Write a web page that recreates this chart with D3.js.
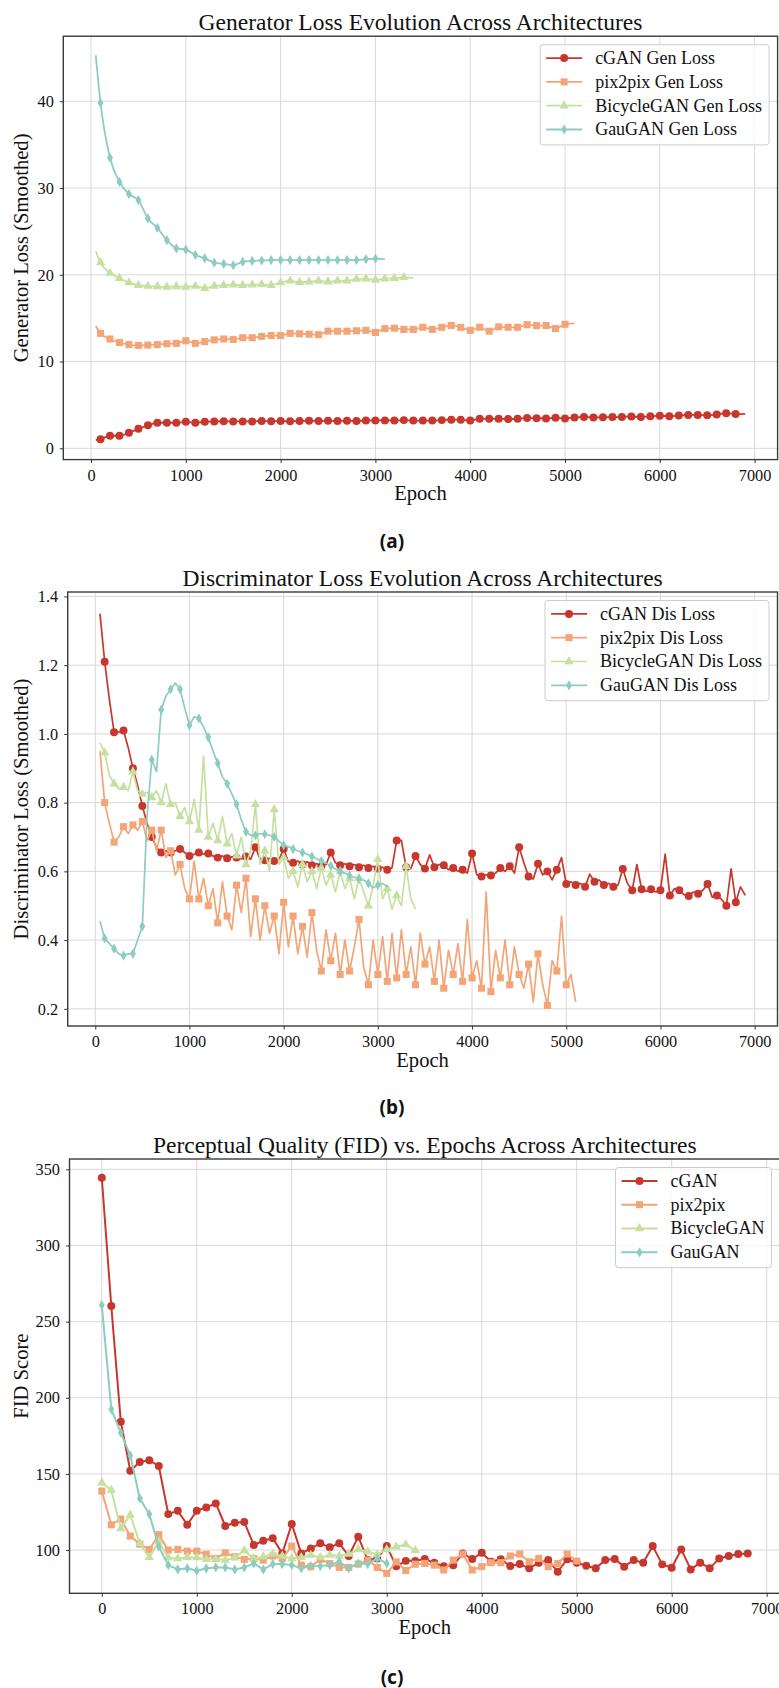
<!DOCTYPE html>
<html>
<head>
<meta charset="utf-8">
<script src="https://cdn.jsdelivr.net/npm/d3@7"></script>
<style>
  body { margin: 0; background: #fff; }
  svg { display: block; font-family: "Liberation Serif", "Times New Roman", serif; }
</style>
</head>
<body>
<svg id="fig" width="779" height="1688"></svg>
<script>
// ---------- shared ----------
var names   = ["cGAN", "pix2pix", "BicycleGAN", "GauGAN"];
var colors  = ["#c8372d", "#f3a577", "#c6e09f", "#8dcdc1"];
var symbols = [d3.symbolCircle, d3.symbolSquare, d3.symbolTriangle, d3.symbolDiamond];
var symSize = [50, 50, 38, 30];

var xTicks   = [0, 1000, 2000, 3000, 4000, 5000, 6000, 7000];
var genTicks = [0, 10, 20, 30, 40];
var disTicks = [0.2, 0.4, 0.6, 0.8, 1.0, 1.2, 1.4];
var fidTicks = [100, 150, 200, 250, 300, 350];

// ---------- (a) generator loss, epochs 50,100,200,... ----------
var genEnd = [6900, 5100, 3400, 3100];
var genCgan = [0.95,
  1.05,1.45,1.45,1.8,2.25,2.65,2.95,2.95,2.95,3.05,
  2.95,3.05,3.1,3.12,3.1,3.1,3.1,3.15,3.12,3.15,
  3.12,3.15,3.18,3.15,3.18,3.15,3.18,3.15,3.2,3.22,
  3.22,3.2,3.25,3.2,3.2,3.2,3.25,3.3,3.28,3.2,
  3.4,3.42,3.4,3.38,3.4,3.5,3.48,3.45,3.52,3.45,
  3.55,3.62,3.55,3.58,3.6,3.62,3.68,3.6,3.7,3.75,
  3.7,3.78,3.85,3.85,3.82,3.9,4.05,3.95,3.98];
var genPix = [14.1,
  13.25,12.6,12.2,11.95,11.85,11.9,11.95,12.05,12.1,12.4,
  12.1,12.3,12.5,12.6,12.55,12.75,12.75,12.9,13.0,13.0,
  13.25,13.2,13.15,13.1,13.5,13.5,13.5,13.55,13.6,13.35,
  13.8,13.85,13.7,13.7,13.95,13.7,13.95,14.15,13.95,13.6,
  13.95,13.5,14.0,13.95,13.95,14.25,14.15,14.15,13.8,14.3,
  14.4];
var genBic = [22.7,
  21.4,20.2,19.6,19.1,18.8,18.7,18.65,18.6,18.65,18.6,
  18.7,18.45,18.7,18.8,18.85,18.8,18.85,18.9,18.8,19.1,
  19.3,19.15,19.2,19.3,19.2,19.3,19.3,19.5,19.55,19.4,
  19.55,19.6,19.7,19.65];
var genGau = [45.3,
  39.8,33.5,30.7,29.3,28.6,26.5,25.4,24.0,23.05,22.9,
  22.3,21.9,21.4,21.25,21.1,21.5,21.6,21.65,21.7,21.7,
  21.7,21.7,21.7,21.7,21.7,21.7,21.7,21.7,21.8,21.85,
  21.8];

// ---------- (b) discriminator loss, epochs 50,100,150,... ----------
var disEnd = [6900, 5100, 3400, 3100];
var disCgan = [
  1.35,1.21,1.10,1.005,1.005,1.01,0.96,0.90,0.85,0.79,
  0.74,0.70,0.67,0.655,0.66,0.655,0.66,0.665,0.655,0.645,
  0.65,0.655,0.65,0.652,0.645,0.64,0.645,0.638,0.642,0.64,
  0.636,0.643,0.635,0.67,0.635,0.632,0.638,0.63,0.634,0.665,
  0.628,0.625,0.63,0.62,0.628,0.618,0.622,0.615,0.62,0.655,
  0.625,0.618,0.622,0.615,0.62,0.612,0.618,0.61,0.615,0.608,
  0.612,0.605,0.61,0.69,0.69,0.612,0.608,0.645,0.62,0.608,
  0.648,0.612,0.62,0.618,0.605,0.61,0.60,0.605,0.595,0.652,
  0.59,0.585,0.59,0.588,0.595,0.61,0.60,0.615,0.595,0.67,
  0.625,0.585,0.578,0.622,0.59,0.60,0.575,0.605,0.64,0.563,
  0.57,0.56,0.565,0.555,0.592,0.57,0.575,0.56,0.565,0.555,
  0.56,0.607,0.565,0.545,0.62,0.548,0.542,0.548,0.54,0.545,
  0.65,0.53,0.55,0.545,0.532,0.528,0.54,0.535,0.545,0.563,
  0.525,0.53,0.518,0.50,0.607,0.51,0.555,0.53];
var disPix = [
  0.95,0.80,0.74,0.685,0.70,0.73,0.71,0.735,0.72,0.745,
  0.69,0.72,0.66,0.72,0.64,0.66,0.59,0.62,0.55,0.52,
  0.63,0.52,0.58,0.50,0.55,0.45,0.57,0.47,0.43,0.56,
  0.48,0.58,0.41,0.52,0.40,0.50,0.42,0.47,0.36,0.51,
  0.38,0.47,0.36,0.44,0.35,0.48,0.37,0.31,0.43,0.34,
  0.42,0.30,0.40,0.31,0.38,0.46,0.32,0.27,0.40,0.30,
  0.41,0.28,0.42,0.29,0.43,0.30,0.38,0.27,0.42,0.33,
  0.38,0.28,0.40,0.26,0.37,0.30,0.39,0.28,0.46,0.29,
  0.34,0.26,0.54,0.25,0.37,0.29,0.40,0.27,0.38,0.30,
  0.26,0.33,0.22,0.36,0.27,0.21,0.34,0.31,0.47,0.27,
  0.30,0.22];
var disBic = [
  0.975,0.945,0.88,0.855,0.84,0.845,0.835,0.89,0.835,0.825,
  0.83,0.815,0.835,0.80,0.855,0.795,0.80,0.76,0.785,0.745,
  0.81,0.72,0.935,0.70,0.74,0.69,0.76,0.68,0.71,0.645,
  0.70,0.62,0.66,0.795,0.62,0.66,0.60,0.78,0.62,0.64,
  0.58,0.60,0.555,0.62,0.57,0.60,0.55,0.61,0.56,0.59,
  0.54,0.60,0.55,0.58,0.52,0.58,0.54,0.50,0.56,0.635,
  0.52,0.55,0.49,0.53,0.50,0.615,0.52,0.49];
var disGau = [
  0.455,0.405,0.39,0.375,0.36,0.355,0.36,0.36,0.40,0.44,
  0.76,0.925,0.89,1.07,1.11,1.13,1.148,1.13,1.075,1.025,
  1.05,1.045,1.02,0.99,0.95,0.915,0.875,0.855,0.825,0.795,
  0.75,0.715,0.705,0.705,0.71,0.708,0.705,0.70,0.688,0.676,
  0.672,0.665,0.66,0.655,0.65,0.643,0.637,0.63,0.624,0.616,
  0.607,0.60,0.595,0.588,0.583,0.578,0.575,0.565,0.552,0.56,
  0.565,0.555];

// ---------- (c) FID, epochs 0,100,200,... ----------
var fidEnd = [6800, 5000, 3300, 3000];
var fidCgan = [
  344.5,260.2,184.3,152.1,157.8,158.9,155.2,123.6,125.8,116.6,
  125.8,128,130.6,115.8,118,118.4,103.3,106.1,107.7,97.8,
  117.1,97.8,101.1,104.4,101.8,104.4,96.1,108.8,93.4,94.5,
  102.6,89.3,92.9,92.9,94.1,91.6,89.3,90,97.8,94.1,
  98.2,92.3,93.9,89.5,90.8,88.0,91.7,93.4,85.8,93.9,
  91.7,89.7,88.0,93.4,94.1,89.1,93.4,91.7,102.6,90.6,
  88.4,100.4,87.3,91.7,88.0,94.5,96.1,97.4,97.8];
var fidPix = [
  138.7,116.6,120.4,109.2,103.9,100.4,110.1,100,100.4,99.3,
  99.3,97.2,94.5,98.2,95.6,93.9,94.5,93.4,96.1,94.5,
  102.6,90.1,89.1,93.9,91.2,88.6,88.6,90.8,93.4,88.6,
  84.7,92.2,86.6,90.7,91.2,90.1,86.9,93.4,97.4,86.9,
  89.1,91.7,91.7,96.1,97.4,92.3,94.5,89.1,91.2,97.4,
  92.8];
var fidBic = [
  144.2,139.4,114.2,123,104.4,95.2,105.5,95,94.5,95.2,
  95,93.9,94.1,93.4,95,99.6,94.5,95.6,97.4,96.1,
  94.5,95.2,96.7,95.2,96.7,96.1,97.4,100.4,98.9,97.2,
  100.4,102.2,103.6,99.8];
var fidGau = [
  260.9,192.4,177.1,162,133.9,123.6,102.2,90.1,87.3,88,
  86.4,88,88.6,88.6,87.3,88.6,91.2,87.3,90.8,90.8,
  90.1,88,89.5,89.5,90.1,92.3,88,91.2,90.8,94.5,
  91.2];

// epoch grids the values were sampled on
function genEpochs(end) { return [50].concat(d3.range(100, end + 1, 100)); }
function disEpochs(end) { return d3.range(50, end + 1, 50); }
function fidEpochs(end) { return d3.range(0, end + 1, 100); }

var svg = d3.select("#fig");

function drawPanel(p) {
  var g = svg.append("g");
  var x = d3.scaleLinear().domain(p.xDomain).range([p.left, p.right]);
  var y = d3.scaleLinear().domain(p.yDomain).range([p.bottom, p.top]);

  //grid
  g.append("g").selectAll("line").data(xTicks).join("line")
    .attr("x1", function(d){ return x(d); }).attr("x2", function(d){ return x(d); })
    .attr("y1", p.top).attr("y2", p.bottom)
    .attr("stroke", "#d8d8d8").attr("stroke-width", 1);
  g.append("g").selectAll("line").data(p.yTicks).join("line")
    .attr("x1", p.left).attr("x2", p.right)
    .attr("y1", function(d){ return y(d); }).attr("y2", function(d){ return y(d); })
    .attr("stroke", "#d8d8d8").attr("stroke-width", 1);

  //series
  var line = d3.line()
    .x(function(d){ return x(d[0]); })
    .y(function(d){ return y(d[1]); })
    .curve(p.curve);

  p.series.forEach(function(s, i){
    var pts = s.x.map(function(e, k){ return [e, s.y[k]]; });
    var sg = g.append("g");
    sg.append("path").datum(pts)
      .attr("d", line)
      .attr("fill", "none")
      .attr("stroke", colors[i])
      .attr("stroke-width", p.lw)
      .attr("stroke-linejoin", "round");
    var sym = d3.symbol().type(symbols[i]).size(symSize[i]);
    sg.selectAll("path.m").data(pts.filter(function(d, k){ return p.markAt(d, k, pts.length); }))
      .join("path").attr("class", "m")
      .attr("transform", function(d){ return "translate(" + x(d[0]) + "," + y(d[1]) + ")"; })
      .attr("d", sym)
      .attr("fill", colors[i]);
  });

  //axes
  var xa = g.append("g").attr("transform", "translate(0," + p.bottom + ")")
    .call(d3.axisBottom(x).tickValues(xTicks).tickSize(3.5).tickPadding(6).tickFormat(d3.format("d")));
  var ya = g.append("g").attr("transform", "translate(" + p.left + ",0)")
    .call(d3.axisLeft(y).tickValues(p.yTicks).tickSize(3.5).tickPadding(6).tickFormat(p.yFmt));
  [xa, ya].forEach(function(a){
    a.select(".domain").remove();
    a.selectAll("line").attr("stroke", "#333").attr("stroke-width", 1);
    a.selectAll("text").attr("font-family", "Liberation Serif").attr("font-size", 16.3).attr("fill", "#111");
  });

  g.append("rect")
    .attr("x", p.left).attr("y", p.top)
    .attr("width", p.right - p.left).attr("height", p.bottom - p.top)
    .attr("fill", "none").attr("stroke", "#3a3a3a").attr("stroke-width", 1.4);

  //titles
  g.append("text").attr("x", (p.left + p.right) / 2).attr("y", p.top - 6)
    .attr("text-anchor", "middle").attr("font-size", 23.5).attr("fill", "#111").text(p.title);
  g.append("text").attr("x", (p.left + p.right) / 2).attr("y", p.bottom + 40.5)
    .attr("text-anchor", "middle").attr("font-size", 20.6).attr("fill", "#111").text("Epoch");
  g.append("text")
    .attr("transform", "translate(27.5," + (p.top + p.bottom) / 2 + ") rotate(-90)")
    .attr("text-anchor", "middle").attr("font-size", 20.6).attr("fill", "#111").text(p.yLabel);

  //legend
  var lg = g.append("g");
  var box = lg.append("rect").attr("fill", "#fff").attr("fill-opacity", 0.8)
    .attr("stroke", "#cccccc").attr("stroke-width", 1).attr("rx", 3);
  var rowH = 23.8, maxW = 0;
  var items = lg.selectAll("g").data(p.labels).join("g")
    .attr("transform", function(d, i){ return "translate(0," + (13.4 + i * rowH) + ")"; });
  items.append("line").attr("x1", 6).attr("x2", 42)
    .attr("stroke", function(d, i){ return colors[i]; }).attr("stroke-width", p.lw);
  items.append("path").attr("transform", "translate(24,0)")
    .attr("d", function(d, i){ return d3.symbol().type(symbols[i]).size(symSize[i])(); })
    .attr("fill", function(d, i){ return colors[i]; });
  items.append("text").attr("x", 55).attr("dy", "0.33em")
    .attr("font-size", 18).attr("fill", "#111").text(function(d){ return d; })
    .each(function(){ maxW = Math.max(maxW, this.getComputedTextLength()); });
  var bw = 55 + maxW + 7, bh = 4 * rowH + 5;
  box.attr("width", bw).attr("height", bh);
  lg.attr("transform", "translate(" + (p.right - 8.5 - bw) + "," + (p.top + 8.5) + ")");

  //sub-figure label
  svg.append("text").attr("x", 392).attr("y", p.subY)
    .attr("text-anchor", "middle").attr("font-family", "'Noto Sans', sans-serif")
    .attr("font-weight", 700).attr("font-size", 19).attr("fill", "#111").text(p.sub);
}

function markInner(d, k, n) { return k > 0 && k < n - 1; }
function markHundreds(d, k, n) { return d[0] % 100 === 0 && k < n - 1; }
function markAll() { return true; }

drawPanel({
  left: 63.3, right: 777.6, top: 36.2, bottom: 459.6,
  xDomain: [-292.5, 7242.5], yDomain: [-1.3, 47.5],
  yTicks: genTicks, yFmt: d3.format("d"), lw: 1.8, curve: d3.curveMonotoneX,
  title: "Generator Loss Evolution Across Architectures",
  yLabel: "Generator Loss (Smoothed)",
  labels: names.map(function(n){ return n + " Gen Loss"; }),
  series: [genCgan, genPix, genBic, genGau].map(function(v, i){ return { x: genEpochs(genEnd[i]), y: v }; }),
  markAt: markInner, sub: "(a)", subY: 547.5
});

drawPanel({
  left: 67.7, right: 777.5, top: 592, bottom: 1026,
  xDomain: [-292.5, 7242.5], yDomain: [0.15, 1.413],
  yTicks: disTicks, yFmt: d3.format(".1f"), lw: 1.7, curve: d3.curveLinear,
  title: "Discriminator Loss Evolution Across Architectures",
  yLabel: "Discriminator Loss (Smoothed)",
  labels: names.map(function(n){ return n + " Dis Loss"; }),
  series: [disCgan, disPix, disBic, disGau].map(function(v, i){ return { x: disEpochs(disEnd[i]), y: v }; }),
  markAt: markHundreds, sub: "(b)", subY: 1114
});

drawPanel({
  left: 69.5, right: 780, top: 1159, bottom: 1593.3,
  xDomain: [-340, 7140], yDomain: [71.6, 356.8],
  yTicks: fidTicks, yFmt: d3.format("d"), lw: 2, curve: d3.curveLinear,
  title: "Perceptual Quality (FID) vs. Epochs Across Architectures",
  yLabel: "FID Score",
  labels: names,
  series: [fidCgan, fidPix, fidBic, fidGau].map(function(v, i){ return { x: fidEpochs(fidEnd[i]), y: v }; }),
  markAt: markAll, sub: "(c)", subY: 1683.5
});
</script>
</body>
</html>
